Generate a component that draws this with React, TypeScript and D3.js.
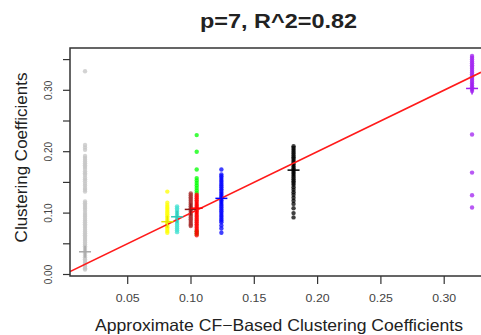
import React from "react";
import * as d3 from "d3";

const title = "p=7, R^2=0.82";
const xLabel = "Approximate CF\u2212Based Clustering Coefficients";
const yLabel = "Clustering Coefficients";
const xTicks = [0.05, 0.1, 0.15, 0.2, 0.25, 0.3];
const yTicks = [0, 0.05, 0.1, 0.15, 0.2, 0.25, 0.3, 0.35];
const yTickLabels = [0, 0.1, 0.2, 0.3];

const grayX = 0.0163;
const grayVals = [0.331, 0.211, 0.207, 0.203, 0.193, 0.19, 0.187, 0.184, 0.181, 0.178, 0.175, 0.172, 0.168, 0.165, 0.162, 0.158, 0.155, 0.152, 0.148, 0.145, 0.141, 0.138, 0.135, 0.119, 0.116, 0.113, 0.11, 0.107, 0.104, 0.1, 0.097, 0.094, 0.091, 0.088, 0.085, 0.082, 0.079, 0.076, 0.073, 0.07, 0.067, 0.064, 0.061, 0.058, 0.055, 0.052, 0.049, 0.046, 0.043, 0.04, 0.037, 0.034, 0.031, 0.028, 0.025, 0.022, 0.019, 0.016, 0.013, 0.01, 0.008];
const grayMean = 0.037;

const yellowX = 0.0813;
const yellowVals = [0.135, 0.117, 0.113, 0.11, 0.107, 0.104, 0.101, 0.098, 0.095, 0.092, 0.089, 0.086, 0.083, 0.08, 0.077, 0.074, 0.071, 0.068];
const yellowMean = 0.086;

const cyanX = 0.089;
const cyanVals = [0.111, 0.108, 0.105, 0.102, 0.099, 0.096, 0.093, 0.09, 0.087, 0.084, 0.081, 0.078, 0.075, 0.072, 0.069];
const cyanMean = 0.094;

const brownX = 0.0998;
const brownVals = [0.132, 0.129, 0.126, 0.123, 0.12, 0.117, 0.114, 0.111, 0.108, 0.105, 0.102, 0.099, 0.096, 0.093, 0.09, 0.087, 0.084, 0.081, 0.079];
const brownMean = 0.106;

const greenX = 0.1045;
const greenVals = [0.227, 0.2, 0.171, 0.157, 0.153, 0.149, 0.145, 0.141, 0.137, 0.133, 0.066, 0.07];

const redX = 0.1045;
const redVals = [0.13, 0.127, 0.124, 0.121, 0.118, 0.115, 0.112, 0.109, 0.106, 0.103, 0.1, 0.097, 0.094, 0.091, 0.088, 0.085, 0.082, 0.079, 0.076, 0.073, 0.07, 0.067, 0.064];
const redMean = 0.108;

const blueX = 0.124;
const blueVals = [0.171, 0.163, 0.16, 0.157, 0.154, 0.151, 0.148, 0.145, 0.142, 0.139, 0.136, 0.133, 0.13, 0.127, 0.124, 0.121, 0.118, 0.115, 0.112, 0.109, 0.106, 0.103, 0.1, 0.097, 0.094, 0.091, 0.088, 0.085, 0.08, 0.075, 0.068];
const blueMean = 0.124;

const blackX = 0.181;
const blackVals = [0.209, 0.206, 0.203, 0.2, 0.197, 0.194, 0.191, 0.188, 0.185, 0.182, 0.179, 0.176, 0.173, 0.17, 0.167, 0.164, 0.161, 0.158, 0.155, 0.152, 0.149, 0.146, 0.142, 0.138, 0.134, 0.13, 0.125, 0.12, 0.115, 0.108, 0.1, 0.093];
const blackMean = 0.17;

const purpleX = 0.322;
const purpleVals = [0.356, 0.353, 0.35, 0.347, 0.344, 0.341, 0.338, 0.335, 0.332, 0.329, 0.326, 0.323, 0.32, 0.317, 0.314, 0.311, 0.308, 0.305, 0.302, 0.299, 0.228, 0.166, 0.129, 0.109];
const purpleMean = 0.303;

const fitIntercept = 0.0003;
const fitSlope = 1.0;

const groups = [
  { x: grayX, vals: grayVals, mean: grayMean, color: "#c4c4c4", cross: "#a8a8a8" },
  { x: yellowX, vals: yellowVals, mean: yellowMean, color: "#ffff00", cross: "#e6e600" },
  { x: cyanX, vals: cyanVals, mean: cyanMean, color: "#40e0d0", cross: "#30c8b8" },
  { x: brownX, vals: brownVals, mean: brownMean, color: "#a52a2a", cross: "#8b1a1a" },
  { x: greenX, vals: greenVals, mean: null, color: "#00ff00", cross: "#00ff00" },
  { x: redX, vals: redVals, mean: redMean, color: "#ff0000", cross: "#ff0000" },
  { x: blueX, vals: blueVals, mean: blueMean, color: "#0000ff", cross: "#0000ff" },
  { x: blackX, vals: blackVals, mean: blackMean, color: "#000000", cross: "#000000" },
  { x: purpleX, vals: purpleVals, mean: purpleMean, color: "#a020f0", cross: "#a020f0" },
];

export default function App() {
  const W = 481, H = 335;
  const left = 70, top = 48, bottom = 276, right = 490;
  const x = d3.scaleLinear().domain([0, 0.33]).range([64.4, 64.4 + 0.33 * 1266]);
  const y = d3.scaleLinear().domain([0, 0.35]).range([274.5, 274.5 - 0.35 * 614]);
  const x0 = x.invert(left), x1 = x.invert(W);
  const line = d3.line<number>().x((d) => x(d)).y((d) => y(fitIntercept + fitSlope * d));
  const fmt = d3.format(".2f");
  const font = "'Liberation Sans', Arial, sans-serif";
  return (
    <svg width={W} height={H} style={{ position: "absolute", left: 0, top: 0, background: "#fff" }}>
      <defs>
        <clipPath id="plotclip">
          <rect x={left} y={top} width={right - left} height={bottom - top} />
        </clipPath>
      </defs>
      <text x={278.5} y={28} textAnchor="middle" fontFamily={font} fontWeight="bold" fontSize={20} fill="#222" textLength={157} lengthAdjust="spacingAndGlyphs">{title}</text>
      <g clipPath="url(#plotclip)">
        {groups.map((g, gi) => (
          <g key={gi}>
            {g.vals.map((v, i) => (
              <circle key={i} cx={x(g.x)} cy={y(v)} r={2.2} fill={g.color} fillOpacity={0.75} />
            ))}
          </g>
        ))}
        <path d={line([x0, x1]) || ""} stroke="#ff1a1a" strokeWidth={1.6} fill="none" />
        {groups.filter((g) => g.mean !== null).map((g, gi) => (
          <g key={"c" + gi} stroke={g.cross} strokeWidth={1.5}>
            <line x1={x(g.x) - 6} x2={x(g.x) + 6} y1={y(g.mean as number)} y2={y(g.mean as number)} />
            <line x1={x(g.x)} x2={x(g.x)} y1={y(g.mean as number) - 6} y2={y(g.mean as number) + 6} />
          </g>
        ))}
      </g>
      <rect x={left} y={top} width={right - left} height={bottom - top} fill="none" stroke="#333" strokeWidth={1.5} />
      {xTicks.map((t, i) => (
        <g key={"xt" + i}>
          <line x1={x(t)} x2={x(t)} y1={bottom} y2={bottom + 8} stroke="#333" strokeWidth={1.2} />
          <text x={x(t)} y={302} textAnchor="middle" fontFamily={font} fontSize={10.5} fill="#444" textLength={24} lengthAdjust="spacingAndGlyphs">{fmt(t)}</text>
        </g>
      ))}
      {yTicks.map((t, i) => (
        <line key={"yt" + i} x1={left} x2={left - 7} y1={y(t)} y2={y(t)} stroke="#333" strokeWidth={1.2} />
      ))}
      {yTickLabels.map((t, i) => (
        <text key={"yl" + i} transform={`translate(52,${y(t)}) rotate(-90)`} textAnchor="middle" fontFamily={font} fontSize={10} fill="#444">{fmt(t)}</text>
      ))}
      <text x={279} y={331} textAnchor="middle" fontFamily={font} fontSize={16.5} fill="#222" textLength={368} lengthAdjust="spacingAndGlyphs">{xLabel}</text>
      <text transform={`translate(27,157.5) rotate(-90)`} textAnchor="middle" fontFamily={font} fontSize={17} fill="#222">{yLabel}</text>
    </svg>
  );
}
